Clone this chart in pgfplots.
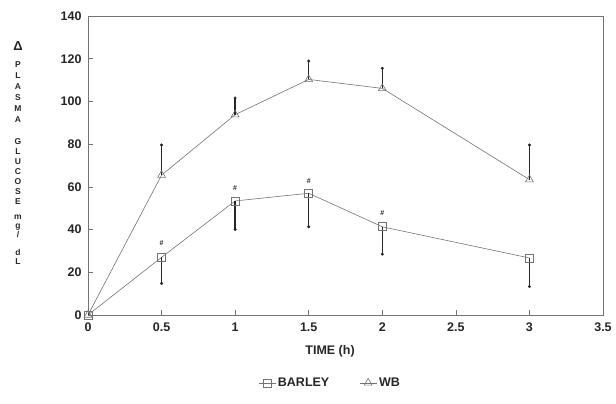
\documentclass[border=0pt]{standalone}
\usepackage{fontspec}
\setmainfont{Liberation Sans}
\usepackage{pgfplots}
\pgfplotsset{compat=1.18}
\definecolor{lin}{gray}{0.45}
\definecolor{ink}{gray}{0.15}
\begin{document}
\begin{tikzpicture}[x=1pt,y=1pt]
\useasboundingbox (0,0) rectangle (616,404);
\begin{axis}[
  at={(88pt,89pt)}, anchor=south west,
  scale only axis, width=515pt, height=299pt,
  xmin=0, xmax=3.5, ymin=0, ymax=140,
  xtick={0,0.5,1,1.5,2,2.5,3,3.5},
  xticklabels={0,0.5,1,1.5,2,2.5,3,3.5},
  ytick={0,20,40,60,80,100,120,140},
  axis line style={lin, line width=0.6pt},
  tick style={lin, line width=0.6pt},
  tick align=inside, xtick pos=bottom, ytick pos=left,
  major tick length=5pt,
  /pgf/number format/assume math mode=true,
  tick label style={font=\fontsize{12.5}{14}\selectfont\bfseries, text=ink},
  xticklabel style={yshift=-4pt},
  yticklabel style={xshift=-3pt},
  xlabel={TIME (h)},
  xlabel style={font=\fontsize{12.5}{14}\selectfont\bfseries, text=ink, at={(axis description cs:0.47,-0.12)}, anchor=center},
  ylabel={\begin{tabular}{@{}c@{}}{\fontsize{13}{14}\selectfont Δ}\\[6pt]
    P\\[0pt]L\\[0pt]A\\[0pt]S\\[0pt]M\\[0pt]A\\[11pt]
    G\\[-1pt]L\\[-1pt]U\\[-1pt]C\\[-1pt]O\\[-1pt]S\\[-1pt]E\\[4pt]
    m\\[-2pt]g\\[-2pt]/\\[7pt]d\\[-2pt]L\end{tabular}},
  ylabel style={rotate=-90, font=\fontsize{8.5}{11}\selectfont\bfseries, text=ink, at={(axis description cs:-0.136,0.925)}, anchor=north},
  legend style={at={(axis description cs:0.47,-0.227)}, anchor=center, draw=none, fill=none,
    font=\fontsize{12.5}{14}\selectfont\bfseries, text=ink,
    /tikz/every even column/.append style={column sep=28pt}},
  legend columns=2,
]
\addplot[lin, line width=0.6pt, mark=square, mark size=4pt, mark options={fill=white, solid},
  error bars/.cd, y dir=minus, y explicit,
  error bar style={ink, line width=1.3pt},
  error mark=*, error mark options={ink, mark size=1.3pt}]
  table[x=x, y=y, y error=e] {
x y e
0 0 0
0.5 27.0 12.2
1 53.4 13.3
1.5 57.0 15.7
2 41.3 12.8
3 26.7 13.4
};
\addlegendentry{BARLEY}
\addplot[lin, line width=0.6pt, mark=triangle, mark size=4.5pt, mark options={fill=white, solid},
  error bars/.cd, y dir=plus, y explicit,
  error bar style={ink, line width=1.3pt},
  error mark=*, error mark options={ink, mark size=1.3pt}]
  table[x=x, y=y, y error=e] {
x y e
0 0 0
0.5 65.5 14.1
1 93.8 7.8
1.5 110.3 8.6
2 106.1 9.4
3 63.4 16.2
};
\addlegendentry{WB}
\addplot[draw=none, forget plot, nodes near coords={\#}, nodes near coords align=center,
  every node near coord/.append style={font=\fontsize{7}{8}\selectfont\bfseries, text=ink}]
  coordinates {(0.5,33.8) (1,59.5) (1.5,62.9) (2,47.7)};
\end{axis}
\end{tikzpicture}
\end{document}
